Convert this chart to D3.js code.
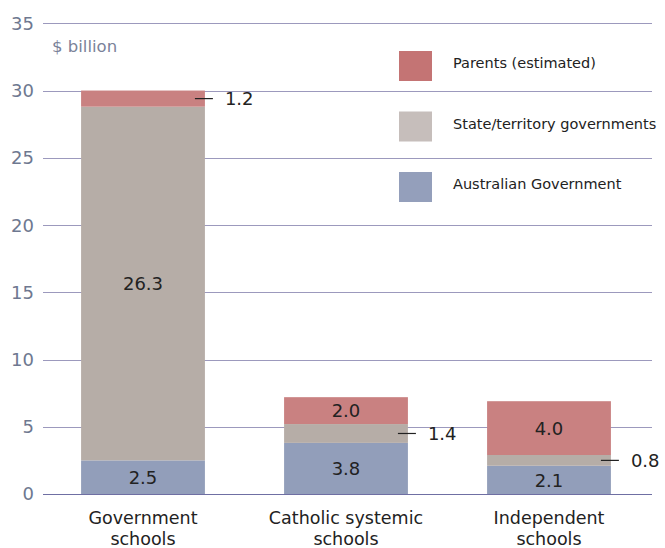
<!DOCTYPE html>
<html>
<head>
<meta charset="utf-8">
<script src="https://cdn.jsdelivr.net/npm/d3@7"></script>
<style>
  body { margin: 0; background: #fff; }
  text { font-family: "DejaVu Sans", sans-serif; }
</style>
</head>
<body>
<div id="chart"></div>
<script>
const categories = [["Government", "schools"], ["Catholic systemic", "schools"], ["Independent", "schools"]];
const australianGov = [2.5, 3.8, 2.1];
const stateGov = [26.3, 1.4, 0.8];
const parents = [1.2, 2.0, 4.0];
const seriesNames = ["Australian Government", "State/territory governments", "Parents (estimated)"];
const yTicks = [0, 5, 10, 15, 20, 25, 30, 35];

const width = 665;
const height = 548;

const svg = d3.select("#chart").append("svg")
  .attr("width", width)
  .attr("height", height);

const y = d3.scaleLinear().domain([0, 35]).range([494, 23.3]);
const x = d3.scaleBand()
  .domain(d3.range(categories.length))
  .range([41.5, 650.5])
  .paddingInner(0.39)
  .paddingOuter(0.195);

const barColors = ["#929eba", "#b6ada7", "#c98181"];
const legendColors = ["#949fbb", "#c6bebb", "#c47474"];

// gridlines
svg.append("g")
  .selectAll("line")
  .data(yTicks)
  .join("line")
  .attr("x1", 43)
  .attr("x2", 652)
  .attr("y1", d => Math.round(y(d)) + 0.5)
  .attr("y2", d => Math.round(y(d)) + 0.5)
  .attr("stroke", d => d === 0 ? "#6f6fa3" : "#9c99bd")
  .attr("stroke-width", 1);

// y tick labels
svg.append("g")
  .selectAll("text")
  .data(yTicks)
  .join("text")
  .attr("x", 34)
  .attr("y", d => y(d))
  .attr("dy", "0.36em")
  .attr("text-anchor", "end")
  .attr("font-size", 18)
  .attr("fill", "#6e7890")
  .text(d => d);

svg.append("text")
  .attr("x", 52)
  .attr("y", 52)
  .attr("font-size", 16.5)
  .attr("fill", "#7a8299")
  .text("$ billion");

// stacked data
const rows = categories.map((c, i) => ({ i, aus: australianGov[i], state: stateGov[i], parents: parents[i] }));
const stack = d3.stack().keys(["aus", "state", "parents"])(rows);

svg.append("g")
  .selectAll("g")
  .data(stack)
  .join("g")
  .attr("fill", (d, k) => barColors[k])
  .selectAll("rect")
  .data(d => d)
  .join("rect")
  .attr("x", d => x(d.data.i))
  .attr("width", x.bandwidth())
  .attr("y", d => y(d[1]))
  .attr("height", d => y(d[0]) - y(d[1]));

// value labels
const labels = svg.append("g");
stack.forEach((layer, k) => {
  layer.forEach(d => {
    const v = d[1] - d[0];
    const cy = y((d[0] + d[1]) / 2);
    const inside = (y(d[0]) - y(d[1])) > 24;
    if (inside) {
      labels.append("text")
        .attr("x", x(d.data.i) + x.bandwidth() / 2)
        .attr("y", cy)
        .attr("dy", "0.38em")
        .attr("text-anchor", "middle")
        .attr("font-size", 18)
        .attr("fill", "#222")
        .text(v.toFixed(1));
    } else {
      const bx = x(d.data.i) + x.bandwidth();
      labels.append("line")
        .attr("x1", bx - 10)
        .attr("x2", bx + 8)
        .attr("y1", cy)
        .attr("y2", cy)
        .attr("stroke", "#222")
        .attr("stroke-width", 1.2);
      labels.append("text")
        .attr("x", bx + 20)
        .attr("y", cy)
        .attr("dy", "0.38em")
        .attr("font-size", 18)
        .attr("fill", "#222")
        .text(v.toFixed(1));
    }
  });
});

// category labels
svg.append("g")
  .selectAll("text")
  .data(categories)
  .join("text")
  .attr("x", (d, i) => x(i) + x.bandwidth() / 2)
  .attr("y", 524)
  .attr("text-anchor", "middle")
  .attr("font-size", 17.5)
  .attr("fill", "#222")
  .each(function (d) {
    d3.select(this).selectAll("tspan")
      .data(d)
      .join("tspan")
      .attr("x", d3.select(this).attr("x"))
      .attr("dy", (t, j) => j === 0 ? 0 : 21)
      .text(t => t);
  });

// legend
const legendOrder = [2, 1, 0];
const legend = svg.append("g")
  .selectAll("g")
  .data(legendOrder)
  .join("g")
  .attr("transform", (d, j) => `translate(399,${51 + j * 60.5})`);
legend.append("rect")
  .attr("width", 33)
  .attr("height", 30)
  .attr("fill", d => legendColors[d]);
legend.append("text")
  .attr("x", 54)
  .attr("y", 12)
  .attr("dy", "0.35em")
  .attr("font-size", 14.5)
  .attr("fill", "#222")
  .text(d => seriesNames[d]);
</script>
</body>
</html>
